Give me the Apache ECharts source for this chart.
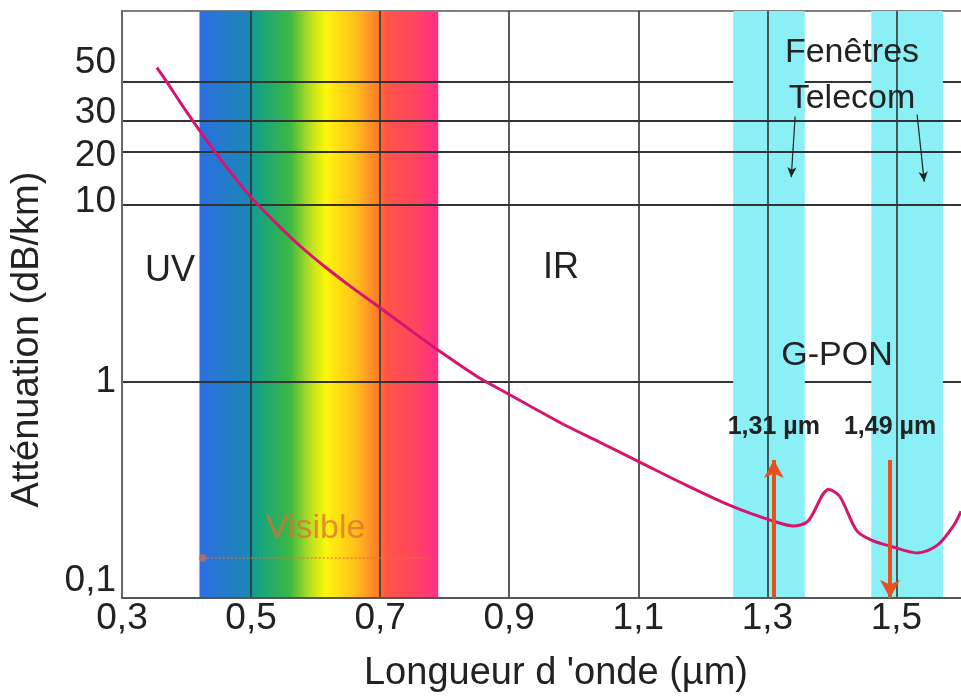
<!DOCTYPE html>
<html>
<head>
<meta charset="utf-8">
<script src="https://cdn.jsdelivr.net/npm/echarts@6/dist/echarts.min.js"></script>
<style>html,body{margin:0;padding:0;background:#fff}#main{width:961px;height:698px}</style>
</head>
<body>
<div id="main"></div>
<script>
// courbe d'atténuation
var longueurs = [0.354,0.367,0.390,0.416,0.447,0.475,0.501,0.537,0.576,0.614,0.653,0.700,0.746,0.793,0.850,0.889,0.932,0.983,1.041,1.103,1.165,1.242,1.309,1.340,1.363,1.395,1.412,1.439,1.464,1.490,1.532,1.563,1.588,1.600];
var attenuation = [60.2,51.5,38.4,27.9,19.4,14.3,10.98,8.02,5.87,4.49,3.49,2.62,1.97,1.48,1.07,0.89,0.728,0.575,0.452,0.349,0.269,0.199,0.162,0.152,0.162,0.245,0.224,0.142,0.125,0.117,0.107,0.118,0.152,0.184];

// axes
var xMin = 0.3, xMax = 1.6, xStep = 0.2;
var yMin = 0.0594, yMax = 126;
var xGrid = [0.5, 0.7, 0.9, 1.1, 1.3, 1.5];
var yGridBack = [50, 1];        // lignes cachées par les fenêtres
var yGridFront = [30, 20, 10];  // lignes visibles dans les fenêtres
var yLabelOnly = [0.1];

// zones
var visible = [0.42, 0.79];
var fenetres = [[1.247, 1.358], [1.461, 1.572]];
var gpon = [1.31, 1.49];
var gponLabels = ['1,31 µm', '1,49 µm'];
var gponTop = 0.36;
var visibleArrow = [0.425, 0.775, 0.1];
var telecomArrows = [[1.343, 31.8, 1.337, 14.4], [1.532, 32.6, 1.543, 13.6]];

var FONT = '"Liberation Sans", Arial, sans-serif';
var TXT = '#222';
var fr = function (v) { return String(v).replace('.', ','); };
// décalage vertical des étiquettes comme sur la figure d'origine
var labelShift = { 50: -19, 30: -8, 20: 4, 10: -3, 1: 0, 0.1: 23 };

var myChart = echarts.init(document.getElementById('main'));

var yLabel = {
    show: true, position: 'start', distance: 6,
    fontSize: 37, fontFamily: FONT, color: TXT,
    formatter: function (p) { return fr(p.value); }
};
function yLine(v, extra) {
    var item = { yAxis: v, label: { offset: [0, labelShift[v] || 0] } };
    if (extra) item.lineStyle = extra;
    return item;
}

var option = {
    animation: false,
    grid: { left: 122, right: 0, top: 11, bottom: 98 },
    xAxis: [{
        type: 'value', min: xMin, max: xMax, interval: xStep, z: 5,
        name: 'Longueur d \'onde (µm)', nameLocation: 'middle', nameGap: 57,
        nameTextStyle: { fontSize: 38, fontFamily: FONT, color: TXT, padding: [0, 0, 0, 29] },
        axisLine: { lineStyle: { color: '#555', width: 2 } },
        axisTick: { show: false },
        splitLine: { show: false },
        axisLabel: {
            fontSize: 37, fontFamily: FONT, color: TXT, margin: 2, showMaxLabel: false,
            formatter: function (v) { return v.toFixed(1).replace('.', ','); }
        }
    }, {
        type: 'value', position: 'top', min: xMin, max: xMax, z: 0,
        axisLine: { lineStyle: { color: '#555', width: 1.5 } },
        axisTick: { show: false }, axisLabel: { show: false }, splitLine: { show: false }
    }],
    yAxis: {
        type: 'log', logBase: 10, min: yMin, max: yMax, z: 5,
        name: 'Atténuation (dB/km)', nameLocation: 'middle', nameGap: 75,
        nameTextStyle: { fontSize: 38, fontFamily: FONT, color: TXT, padding: [0, 70, 0, 0] },
        axisLine: { show: true, lineStyle: { color: '#666', width: 2 } },
        axisTick: { show: false }, axisLabel: { show: false },
        splitLine: { show: false }, minorTick: { show: false }
    },
    series: [{
        // spectre visible + lignes 50 et 1
        type: 'line', data: [], silent: true,
        markArea: {
            z: 1, silent: true,
            itemStyle: {
                opacity: 1,
                color: {
                    type: 'linear', x: 0, y: 0, x2: 1, y2: 0,
                    colorStops: [
                        { offset: 0, color: '#2d6ee2' },
                        { offset: 0.2, color: '#1b86b6' },
                        { offset: 0.23, color: '#11a08a' },
                        { offset: 0.38, color: '#3cb843' },
                        { offset: 0.46, color: '#b4de22' },
                        { offset: 0.53, color: '#fff60a' },
                        { offset: 0.65, color: '#ffc21c' },
                        { offset: 0.75, color: '#ff7a2a' },
                        { offset: 0.78, color: '#ff5646' },
                        { offset: 0.9, color: '#ff455e' },
                        { offset: 1, color: '#ff2e88' }
                    ]
                }
            },
            data: [[{ xAxis: visible[0] }, { xAxis: visible[1] }]]
        },
        markLine: {
            z: 2, silent: true, symbol: 'none',
            lineStyle: { color: '#333', width: 2, type: 'solid' },
            label: yLabel,
            data: yGridBack.map(function (v) { return yLine(v); })
        }
    }, {
        // fenêtres télécom + grille
        type: 'line', data: [], silent: true,
        markArea: {
            z: 3, silent: true,
            itemStyle: { color: '#8beff6', opacity: 1 },
            data: fenetres.map(function (f) { return [{ xAxis: f[0] }, { xAxis: f[1] }]; })
        },
        markLine: {
            z: 4, silent: true, symbol: 'none',
            lineStyle: { color: '#333', width: 2, type: 'solid' },
            label: yLabel,
            data: yGridFront.map(function (v) { return yLine(v); })
                .concat(yLabelOnly.map(function (v) { return yLine(v, { color: 'transparent' }); }))
                .concat(xGrid.map(function (v) {
                    return { xAxis: v, lineStyle: { width: 1.6 }, label: { show: false } };
                }))
        }
    }, {
        name: 'Atténuation', type: 'line', z: 6,
        data: longueurs.map(function (x, i) { return [x, attenuation[i]]; }),
        smooth: 0.3, showSymbol: false, silent: true,
        lineStyle: { color: '#d6166e', width: 3 },
        markLine: {
            z: 7, silent: true,
            data: [
                [{ coord: [gpon[0], yMin], symbol: 'none' },
                 { coord: [gpon[0], gponTop], symbol: 'arrow', symbolSize: [15, 18],
                   label: { show: true, position: 'end', formatter: gponLabels[0] } }],
                [{ coord: [gpon[1], gponTop], symbol: 'none',
                   label: { show: true, position: 'start', formatter: gponLabels[1] } },
                 { coord: [gpon[1], yMin], symbol: 'arrow', symbolSize: [15, 18] }],
                [{ coord: [visibleArrow[0], visibleArrow[2]], symbol: 'circle', symbolSize: 8,
                   itemStyle: { color: 'rgba(232,110,60,0.8)' },
                   lineStyle: { color: 'rgba(232,110,60,0.6)', width: 2, type: 'dotted' },
                   label: { show: true, position: 'middle', formatter: 'Visible', distance: 12,
                            fontSize: 34, fontWeight: 'normal', color: 'rgba(226,108,48,0.75)' } },
                 { coord: [visibleArrow[1], visibleArrow[2]], symbol: 'none' }]
            ].concat(telecomArrows.map(function (a) {
                return [{ coord: [a[0], a[1]], symbol: 'none', lineStyle: { color: '#222', width: 1.2 }, label: { show: false } },
                        { coord: [a[2], a[3]], symbol: 'arrow', symbolSize: [7, 10] }];
            })),
            lineStyle: { color: '#e8501e', width: 4, type: 'solid' },
            label: { fontSize: 25, fontWeight: 'bold', fontFamily: FONT, color: TXT, distance: 20 }
        }
    }],
    graphic: [
        { type: 'text', z: 100, x: 170, y: 271, style: { text: 'UV', font: '36px ' + FONT, fill: TXT, align: 'center', verticalAlign: 'middle' } },
        { type: 'text', z: 100, x: 561, y: 268, style: { text: 'IR', font: '36px ' + FONT, fill: TXT, align: 'center', verticalAlign: 'middle' } },
        { type: 'text', z: 100, x: 852, y: 53, style: { text: 'Fenêtres', font: '34px ' + FONT, fill: TXT, align: 'center', verticalAlign: 'middle' } },
        { type: 'text', z: 100, x: 852, y: 99, style: { text: 'Telecom', font: '34px ' + FONT, fill: TXT, align: 'center', verticalAlign: 'middle' } },
        { type: 'text', z: 100, x: 837, y: 356, style: { text: 'G-PON', font: '34px ' + FONT, fill: TXT, align: 'center', verticalAlign: 'middle' } }
    ]
};

myChart.setOption(option);
window.onresize = myChart.resize;
</script>
</body>
</html>
